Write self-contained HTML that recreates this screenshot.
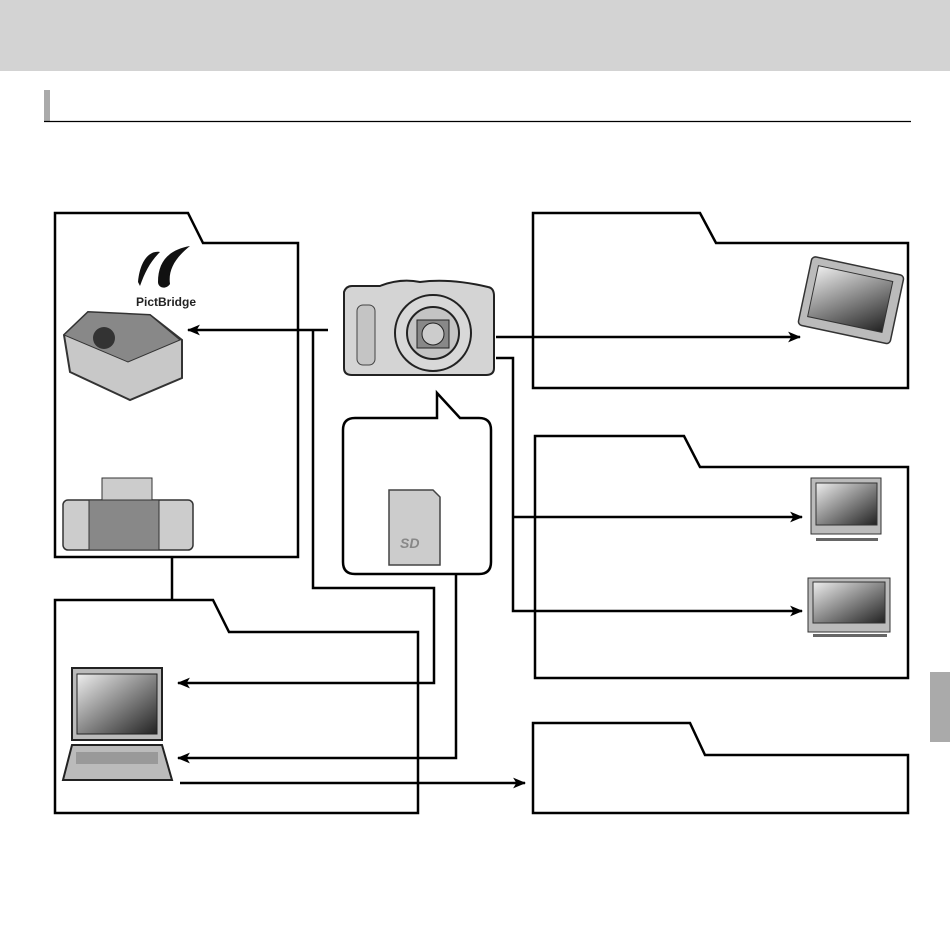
<!DOCTYPE html>
<html><head><meta charset="utf-8"><style>
html,body{margin:0;padding:0;background:#fff;width:950px;height:950px;overflow:hidden}
</style></head><body>
<svg width="950" height="950" viewBox="0 0 950 950" xmlns="http://www.w3.org/2000/svg">
<defs>
<marker id="a" viewBox="0 0 12 10" refX="11" refY="5" markerWidth="13" markerHeight="11" markerUnits="userSpaceOnUse" orient="auto"><path d="M0,0 L12,5 L0,10 L3,5 Z" fill="#000"/></marker>
<linearGradient id="g" x1="0" y1="0" x2="1" y2="1"><stop offset="0" stop-color="#eee"/><stop offset="1" stop-color="#222"/></linearGradient>
</defs>
<rect x="0" y="0" width="950" height="71" fill="#d3d3d3"/>
<rect x="44" y="90" width="6" height="31" fill="#aaa"/>
<line x1="44" y1="121.5" x2="911" y2="121.5" stroke="#000" stroke-width="1.2"/>
<rect x="930" y="672" width="20" height="70" fill="#aaa"/>
<g fill="none" stroke="#000" stroke-width="2.5">
<path d="M55,557 V213 H188 L203,243 H298 V557 Z"/>
<path d="M533,388 V213 H700 L716,243 H908 V388 Z"/>
<path d="M535,678 V436 H684 L700,467 H908 V678 Z"/>
<path d="M55,813 V600 H213 L229,632 H418 V813 Z"/>
<path d="M533,813 V723 H690 L705,755 H908 V813 Z"/>
<line x1="172" y1="557" x2="172" y2="600"/>
<line x1="328" y1="330" x2="188" y2="330" marker-end="url(#a)"/>
<path d="M313,330 V588 H434 V683 H178" marker-end="url(#a)"/>
<path d="M456,574 V758 H178" marker-end="url(#a)"/>
<line x1="180" y1="783" x2="525" y2="783" marker-end="url(#a)"/>
<line x1="496" y1="337" x2="800" y2="337" marker-end="url(#a)"/>
<path d="M496,358 H513 V611 H802" marker-end="url(#a)"/>
<line x1="513" y1="517" x2="802" y2="517" marker-end="url(#a)"/>
<path d="M355,418 H437 V393 L460,418 H479 Q491,418 491,430 V562 Q491,574 479,574 H355 Q343,574 343,562 V430 Q343,418 355,418 Z" fill="#fff"/>
</g>
<!-- camera -->
<path d="M344,292 Q346,286 352,286 H380 Q400,278 420,282 Q450,278 488,287 Q494,288 494,296 V368 Q494,375 486,375 H352 Q344,375 344,368 Z" fill="#d4d4d4" stroke="#222" stroke-width="2"/>
<circle cx="433" cy="333" r="38" fill="#d8d8d8" stroke="#222" stroke-width="2"/>
<circle cx="433" cy="333" r="26" fill="#c4c4c4" stroke="#222" stroke-width="2"/>
<rect x="417" y="320" width="32" height="28" fill="#888" stroke="#222"/>
<circle cx="433" cy="334" r="11" fill="#ccc" stroke="#222"/>
<rect x="357" y="305" width="18" height="60" rx="6" fill="#c4c4c4" stroke="#444"/>
<!-- sd card -->
<path d="M389,490 H433 L440,497 V565 H389 Z" fill="#ccc" stroke="#444" stroke-width="1.5"/>
<text x="400" y="548" font-family="Liberation Sans,sans-serif" font-size="14" font-style="italic" font-weight="bold" fill="#888">SD</text>
<!-- pictbridge -->
<path d="M138,282 C140,260 150,250 160,252 C150,262 145,272 140,286 Z M158,282 C158,262 168,250 190,246 C175,258 168,270 170,284 C166,290 158,288 158,282 Z" fill="#111"/>
<text x="136" y="306" font-family="Liberation Sans,sans-serif" font-size="12" font-weight="bold" fill="#222">PictBridge</text>
<!-- printer 1 -->
<path d="M64,335 L88,312 L150,315 L182,340 L182,378 L130,400 L70,372 Z" fill="#c8c8c8" stroke="#333" stroke-width="2"/>
<path d="M64,335 L88,312 L150,315 L180,340 L128,362 Z" fill="#888" stroke="#333"/>
<circle cx="104" cy="338" r="11" fill="#333"/>
<!-- printer 2 -->
<rect x="63" y="500" width="130" height="50" rx="5" fill="#ccc" stroke="#333" stroke-width="1.5"/>
<rect x="89" y="500" width="70" height="50" fill="#888" stroke="#333"/>
<rect x="102" y="478" width="50" height="22" fill="#ccc" stroke="#333"/>
<!-- photo frame -->
<g transform="rotate(12 850 300)"><rect x="804" y="265" width="94" height="70" rx="4" fill="#bbb" stroke="#333" stroke-width="1.5"/><rect x="812" y="273" width="76" height="52" fill="url(#g)" stroke="#333"/></g>
<!-- TVs -->
<rect x="811" y="478" width="70" height="56" fill="#bbb" stroke="#333"/><rect x="816" y="483" width="61" height="42" fill="url(#g)" stroke="#333"/><rect x="816" y="538" width="62" height="3" fill="#666"/>
<rect x="808" y="578" width="82" height="54" fill="#bbb" stroke="#333"/><rect x="813" y="582" width="72" height="41" fill="url(#g)" stroke="#333"/><rect x="813" y="634" width="74" height="3" fill="#666"/>
<!-- laptop -->
<rect x="72" y="668" width="90" height="72" fill="#bbb" stroke="#222" stroke-width="2"/>
<rect x="77" y="674" width="80" height="60" fill="url(#g)" stroke="#222"/>
<path d="M72,745 H162 L172,780 H63 Z" fill="#bbb" stroke="#222" stroke-width="2"/>
<rect x="76" y="752" width="82" height="12" fill="#999"/>
</svg>
</body></html>
